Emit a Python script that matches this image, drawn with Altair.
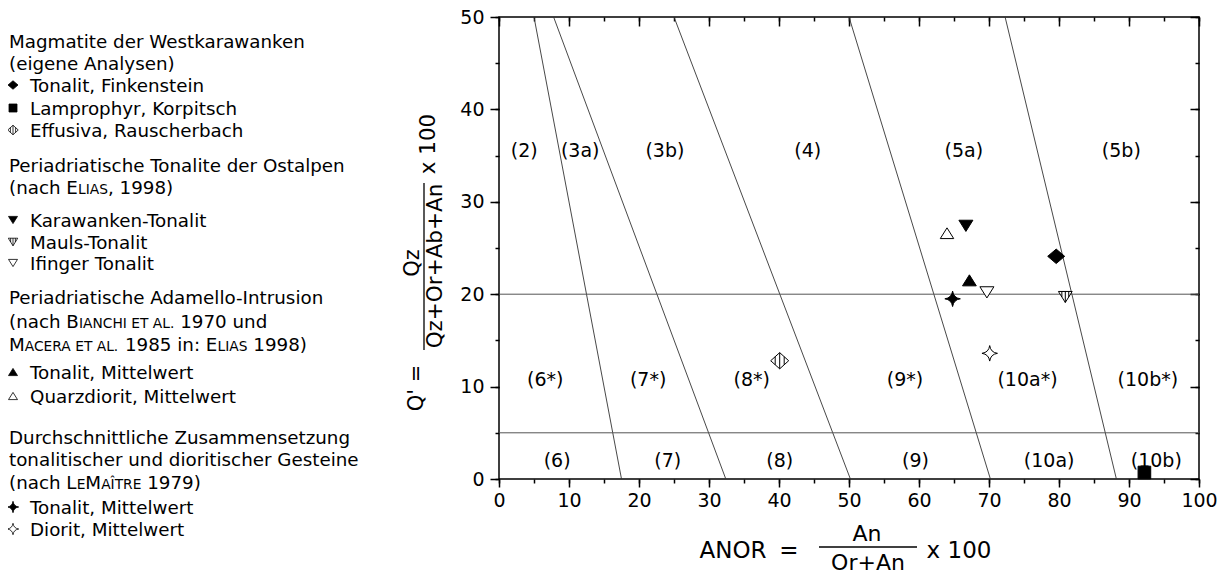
import altair as alt
import pandas as pd

FONT = "DejaVu Sans"

# ---------------- data ----------------
series_names = [
    "Tonalit, Finkenstein", "Lamprophyr, Korpitsch", "Effusiva, Rauscherbach",
    "Karawanken-Tonalit", "Mauls-Tonalit", "Ifinger Tonalit",
    "Tonalit, Mittelwert (Adamello)", "Quarzdiorit, Mittelwert",
    "Tonalit, Mittelwert (LeMaître)", "Diorit, Mittelwert",
]
anor_values = [79.6, 92.2, 40.1, 66.7, 80.9, 69.7, 67.2, 64.0, 64.8, 70.1]
q_values = [24.1, 0.7, 12.8, 27.4, 19.7, 20.2, 21.5, 26.6, 19.5, 13.6]

# field boundaries: ANOR at Q'=50 (top) and at Q'=0 (bottom)
boundary_anor_top = [5.0, 7.8, 25.0, 50.0, 72.3]
boundary_anor_bottom = [17.5, 32.4, 50.2, 70.2, 88.2]
boundary_q_top = [50, 50, 50, 50, 50]
boundary_q_bottom = [0, 0, 0, 0, 0]
hline_q = [20, 5]
hline_from = [0, 0]
hline_to = [100, 100]

field_names = ["(2)", "(3a)", "(3b)", "(4)", "(5a)", "(5b)",
               "(6*)", "(7*)", "(8*)", "(9*)", "(10a*)", "(10b*)",
               "(6)", "(7)", "(8)", "(9)", "(10a)", "(10b)"]
field_anor = [3.6, 11.6, 23.7, 44.1, 66.4, 88.9,
              6.6, 21.3, 36.1, 58.0, 75.5, 92.7,
              8.3, 24.1, 40.1, 59.5, 78.6, 93.9]
field_q = [35.5, 35.5, 35.5, 35.5, 35.5, 35.5,
           10.7, 10.7, 10.7, 10.7, 10.7, 10.7,
           1.9, 1.9, 1.9, 1.9, 1.9, 1.9]

x_major = [0, 10, 20, 30, 40, 50, 60, 70, 80, 90, 100]
x_minor = [0, 5, 10, 15, 20, 25, 30, 35, 40, 45, 50, 55, 60, 65, 70, 75, 80, 85, 90, 95, 100]
y_major = [0, 10, 20, 30, 40, 50]
y_minor = [0, 5, 10, 15, 20, 25, 30, 35, 40, 45, 50]

# legend rows: text segments (text, small caps?) and the marker they describe
legend_rows = [
    [("Magmatite der Westkarawanken", False)],
    [("(eigene Analysen)", False)],
    [("Tonalit, Finkenstein", False)],
    [("Lamprophyr, Korpitsch", False)],
    [("Effusiva, Rauscherbach", False)],
    [("Periadriatische Tonalite der Ostalpen", False)],
    [("(nach E", False), ("LIAS", True), (", 1998)", False)],
    [("Karawanken-Tonalit", False)],
    [("Mauls-Tonalit", False)],
    [("Ifinger Tonalit", False)],
    [("Periadriatische Adamello-Intrusion", False)],
    [("(nach B", False), ("IANCHI ET AL.", True), (" 1970 und", False)],
    [("M", False), ("ACERA ET AL.", True), (" 1985 in: E", False), ("LIAS", True), (" 1998)", False)],
    [("Tonalit, Mittelwert", False)],
    [("Quarzdiorit, Mittelwert", False)],
    [("Durchschnittliche Zusammensetzung", False)],
    [("tonalitischer und dioritischer Gesteine", False)],
    [("(nach L", False), ("E", True), ("M", False), ("AÎTRE", True), (" 1979)", False)],
    [("Tonalit, Mittelwert", False)],
    [("Diorit, Mittelwert", False)],
]
legend_markers = [None, None, "Tonalit, Finkenstein", "Lamprophyr, Korpitsch",
                  "Effusiva, Rauscherbach", None, None, "Karawanken-Tonalit",
                  "Mauls-Tonalit", "Ifinger Tonalit", None, None, None,
                  "Tonalit, Mittelwert (Adamello)", "Quarzdiorit, Mittelwert",
                  None, None, None, "Tonalit, Mittelwert (LeMaître)", "Diorit, Mittelwert"]

# ---------------- styles / layout ----------------
OX, OY = 499, 17           # page position of the plot origin
PW, PH = 700, 462

legend_row_y = [41, 63, 85, 108, 130, 165, 187, 220, 242, 263, 297, 321, 344,
                372, 396, 437, 459, 482, 507, 529]

P_DIAMOND = "M0,-0.85L1,0L0,0.85L-1,0Z"
P_SQUARE = "M-1,-1L1,-1L1,1L-1,1Z"
P_HDIAMOND = "M0,-0.9L1,0L0,0.9L-1,0Z M-0.5,-0.45L-0.5,0.45 M0,-0.9L0,0.9 M0.5,-0.45L0.5,0.45"
P_TDOWN = "M-1,-0.8L1,-0.8L0,0.8Z"
P_HTDOWN = "M-1,-0.8L1,-0.8L0,0.8Z M-0.5,-0.8L-0.5,0 M0,-0.8L0,0.8 M0.5,-0.8L0.5,0"
P_TUP = "M0,-0.8L1,0.8L-1,0.8Z"
P_STAR = "M0,-1Q0.12,-0.12 1,0Q0.12,0.12 0,1Q-0.12,0.12 -1,0Q-0.12,-0.12 0,-1Z"

marker_style = {
    "Tonalit, Finkenstein": (P_DIAMOND, "black", 289, 100),
    "Lamprophyr, Korpitsch": (P_SQUARE, "black", 160, 64),
    "Effusiva, Rauscherbach": (P_HDIAMOND, "white", 324, 110),
    "Karawanken-Tonalit": (P_TDOWN, "black", 196, 81),
    "Mauls-Tonalit": (P_HTDOWN, "white", 190, 90),
    "Ifinger Tonalit": (P_TDOWN, "white", 196, 81),
    "Tonalit, Mittelwert (Adamello)": (P_TUP, "black", 190, 81),
    "Quarzdiorit, Mittelwert": (P_TUP, "white", 180, 81),
    "Tonalit, Mittelwert (LeMaître)": (P_STAR, "black", 240, 130),
    "Diorit, Mittelwert": (P_STAR, "white", 240, 130),
}

# DejaVu Sans advance widths (per 1000 em)
AW = {' ': 318, "'": 275, '(': 390, ')': 390, '*': 500, '+': 838, ',': 318, '-': 361,
      '.': 318, ':': 337, '=': 838, 'Î': 295,
      'A': 684, 'B': 686, 'C': 698, 'D': 770, 'E': 632, 'F': 575, 'G': 775, 'H': 752,
      'I': 295, 'J': 295, 'K': 656, 'L': 557, 'M': 863, 'N': 748, 'O': 787, 'P': 603,
      'Q': 787, 'R': 695, 'S': 635, 'T': 611, 'U': 732, 'V': 684, 'W': 989, 'X': 685,
      'Y': 611, 'Z': 685,
      'a': 613, 'b': 635, 'c': 550, 'd': 635, 'e': 615, 'f': 352, 'g': 635, 'h': 634,
      'i': 278, 'j': 278, 'k': 579, 'l': 278, 'm': 974, 'n': 634, 'o': 612, 'p': 635,
      'q': 635, 'r': 411, 's': 521, 't': 392, 'u': 634, 'v': 592, 'w': 818, 'x': 592,
      'y': 592, 'z': 525}
for d in "0123456789":
    AW[d] = 636


def text_width(s, size):
    return sum(AW.get(c, 600) for c in s) * size / 1000.0


LEG_FS = 18.3
LEG_SMALL = 13.8
HEAD_X = 9
ITEM_X = 30
MARK_X = 13

# legend text segments: leading/trailing blanks are turned into offsets
seg_rows = []
for ry, segs, mk in zip(legend_row_y, legend_rows, legend_markers):
    x = ITEM_X if mk else HEAD_X
    for txt, small in segs:
        fs = LEG_SMALL if small else LEG_FS
        lead = len(txt) - len(txt.lstrip(" "))
        core = txt.strip(" ")
        seg_rows.append({"px": x + text_width(" " * lead, fs) - OX, "py": ry + 6.5 - OY,
                         "text": core, "fs": fs})
        x += text_width(txt, fs)
legend_text_df = pd.DataFrame(seg_rows)

legend_mark_df = pd.DataFrame([
    {"name": mk, "px": MARK_X - OX, "py": ry - OY, "sz": marker_style[mk][3]}
    for ry, mk in zip(legend_row_y, legend_markers) if mk
])

names_order = list(marker_style.keys())
shape_scale = alt.Scale(domain=names_order, range=[marker_style[n][0] for n in names_order])
fill_scale = alt.Scale(domain=names_order, range=[marker_style[n][1] for n in names_order])

points_df = pd.DataFrame({
    "name": series_names, "anor": anor_values, "q": q_values,
    "sz": [marker_style[n][2] for n in series_names],
})
bound_df = pd.DataFrame({"xa": boundary_anor_top, "xb": boundary_anor_bottom,
                         "ya": boundary_q_top, "yb": boundary_q_bottom})
hline_df = pd.DataFrame({"q": hline_q, "xa": hline_from, "xb": hline_to})
field_df = pd.DataFrame({"label": field_names, "anor": field_anor, "q": field_q})

xs = alt.Scale(domain=[0, 100], nice=False, zero=False)
ys = alt.Scale(domain=[0, 50], nice=False, zero=False)


def axis(orient, values, size, labels=False, offset=None, pad=5):
    kw = dict(orient=orient, values=values, tickSize=size, labels=labels, domain=False,
              grid=False, title=None, ticks=True, tickColor="black", tickWidth=1.5)
    if offset is not None:
        kw["offset"] = offset
    if labels:
        kw.update(labelFontSize=19, labelColor="black", labelFont=FONT,
                  labelFlush=False, labelOverlap=False, labelPadding=pad)
    return alt.Axis(**kw)


boundaries = alt.Chart(bound_df).mark_rule(color="#333333", strokeWidth=0.9).encode(
    x=alt.X("xa:Q", scale=xs, axis=axis("bottom", x_major, 8, True, pad=4)),
    x2="xb:Q",
    y=alt.Y("ya:Q", scale=ys, axis=axis("left", y_major, 9, True, pad=6)),
    y2="yb:Q",
)

hlines = alt.Chart(hline_df).mark_rule(color="#555555", strokeWidth=1).encode(
    x=alt.X("xa:Q", scale=xs, axis=axis("bottom", x_minor, 4)),
    x2="xb:Q",
    y=alt.Y("q:Q", scale=ys, axis=axis("left", y_minor, 4)),
)

fields = alt.Chart(field_df).mark_text(font=FONT, fontSize=19, color="black",
                                       align="center", baseline="middle").encode(
    x=alt.X("anor:Q", scale=xs, axis=axis("top", x_major, 9, offset=-9)),
    y=alt.Y("q:Q", scale=ys, axis=axis("right", y_major, 9, offset=-9)),
    text="label:N",
)

points = alt.Chart(points_df).mark_point(filled=True, opacity=1, stroke="black",
                                         strokeWidth=1).encode(
    x=alt.X("anor:Q", scale=xs, axis=axis("top", x_minor, 4, offset=-4)),
    y=alt.Y("q:Q", scale=ys, axis=axis("right", y_minor, 4, offset=-4)),
    shape=alt.Shape("name:N", scale=shape_scale, legend=None),
    fill=alt.Fill("name:N", scale=fill_scale, legend=None),
    size=alt.Size("sz:Q", scale=None),
)

legend_marks = alt.Chart(legend_mark_df).mark_point(filled=True, opacity=1, stroke="black",
                                                    strokeWidth=0.8).encode(
    x=alt.X("px:Q", scale=None),
    y=alt.Y("py:Q", scale=None),
    shape=alt.Shape("name:N", scale=shape_scale, legend=None),
    fill=alt.Fill("name:N", scale=fill_scale, legend=None),
    size=alt.Size("sz:Q", scale=None),
)

legend_text = alt.Chart(legend_text_df).mark_text(font=FONT, color="black", align="left",
                                                  baseline="alphabetic").encode(
    x=alt.X("px:Q", scale=None),
    y=alt.Y("py:Q", scale=None),
    text="text:N",
    size=alt.Size("fs:Q", scale=None),
)

# axis titles (fractions)
xtitle_df = pd.DataFrame({
    "text": ["ANOR", "=", "An", "Or+An", "x 100"],
    "px": [733 - OX, 789 - OX, 867 - OX, 868 - OX, 959 - OX],
    "py": [551 - OY, 551 - OY, 534 - OY, 563 - OY, 551 - OY],
    "fs": [23, 23, 22, 22, 23],
})
xtitle = alt.Chart(xtitle_df).mark_text(font=FONT, color="black", align="center",
                                        baseline="middle").encode(
    x=alt.X("px:Q", scale=None), y=alt.Y("py:Q", scale=None),
    text="text:N", size=alt.Size("fs:Q", scale=None),
)
xbar = alt.Chart(pd.DataFrame({"k": [0]})).mark_rule(color="black", strokeWidth=1.3).encode(
    x=alt.value(819 - OX), x2=alt.value(917 - OX), y=alt.value(547 - OY))

ytitle_df = pd.DataFrame({
    "text": ["Q' =", "Qz", "Qz+Or+Ab+An", "x 100"],
    "px": [417 - OX, 413 - OX, 436 - OX, 429 - OX],
    "py": [388 - OY, 263 - OY, 266 - OY, 144 - OY],
    "fs": [21, 21, 21.5, 21.5],
})
ytitle = alt.Chart(ytitle_df).mark_text(font=FONT, color="black", align="center",
                                        baseline="middle", angle=270).encode(
    x=alt.X("px:Q", scale=None), y=alt.Y("py:Q", scale=None),
    text="text:N", size=alt.Size("fs:Q", scale=None),
)
ybar = alt.Chart(pd.DataFrame({"k": [0]})).mark_rule(color="black", strokeWidth=1.3).encode(
    x=alt.value(424 - OX), y=alt.value(183 - OY), y2=alt.value(350 - OY))

chart = alt.layer(
    boundaries, hlines, fields, points, legend_marks, legend_text, xtitle, xbar, ytitle, ybar
).resolve_axis(
    x="independent", y="independent"
).properties(
    width=PW, height=PH,
    autosize=alt.AutoSizeParams(type="none"),
    padding={"left": OX - 8, "top": OY - 8, "right": 1229 - 16 - (OX - 8) - PW, "bottom": 566 - (OY - 8) - PH},
    background="white",
).configure_view(
    stroke="black", strokeWidth=1.5
).configure_text(font=FONT)

chart.save("out.html", embed_options={"renderer": "svg", "actions": False})
